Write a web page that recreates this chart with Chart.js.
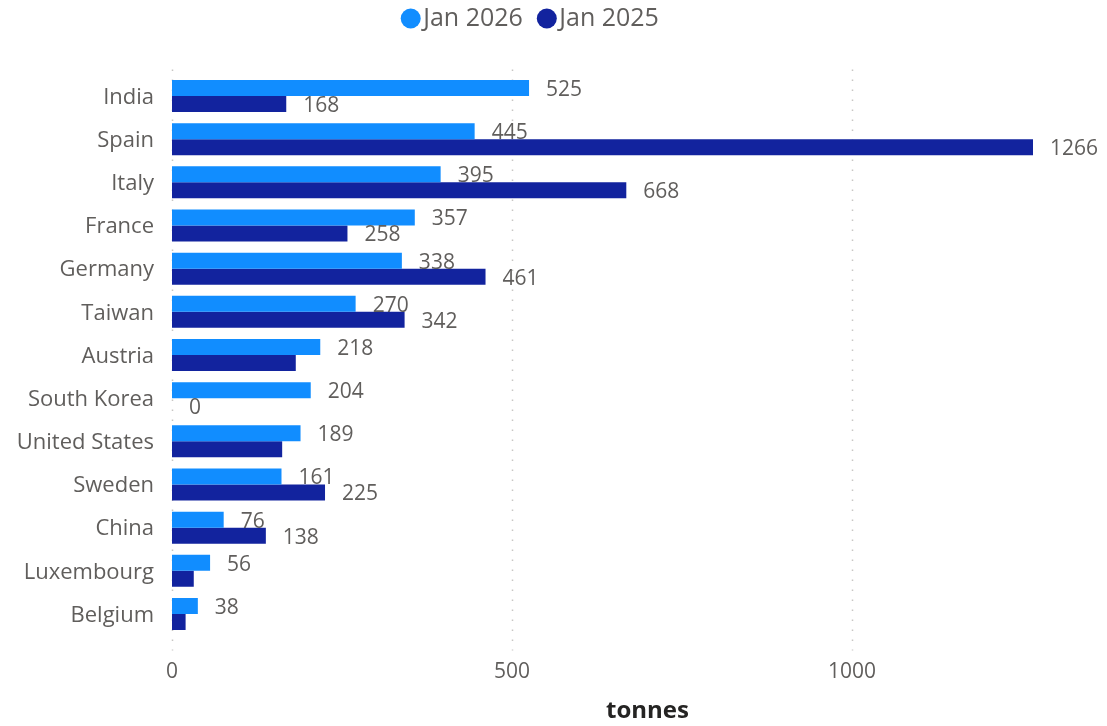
<!DOCTYPE html>
<html>
<head>
<meta charset="utf-8">
<script src="https://cdn.jsdelivr.net/npm/chart.js@4/dist/chart.umd.min.js"></script>
<style>
  html, body { margin: 0; padding: 0; background: #fff; }
  #wrap { width: 1107px; height: 726px; }
</style>
</head>
<body>
<div id="wrap"><canvas id="chart"></canvas></div>
<script>
const countries = ['India', 'Spain', 'Italy', 'France', 'Germany', 'Taiwan', 'Austria', 'South Korea', 'United States', 'Sweden', 'China', 'Luxembourg', 'Belgium'];
const jan2026 = [525, 445, 395, 357, 338, 270, 218, 204, 189, 161, 76, 56, 38];
const jan2025 = [168, 1266, 668, 258, 461, 342, 182, 0, 162, 225, 138, 32, 20];
const xTicks = [0, 500, 1000];
const seriesNames = ['Jan 2026', 'Jan 2025'];
const seriesColors = ['#118DFF', '#12239E'];

const textGray = '#605E5C';
const fontFamily = '"Open Sans", "Noto Sans", sans-serif';

// legend drawn by hand so the dot-to-text gap matches
const legendPlugin = {
  id: 'topLegend',
  afterDraw(chart) {
    const c = chart.ctx;
    c.save();
    c.font = '25px ' + fontFamily;
    c.textBaseline = 'middle';
    let x = 410.7;
    const y = 18.5;
    seriesNames.forEach((name, i) => {
      c.fillStyle = seriesColors[i];
      c.beginPath();
      c.arc(x, y, 10, 0, Math.PI * 2);
      c.fill();
      c.fillStyle = textGray;
      c.textAlign = 'left';
      c.fillText(name, x + 12.5, y);
      x = x + 12.5 + c.measureText(name).width + 24;
    });
    c.restore();
  }
};

// dotted gridlines that run a bit past the plot area, like the original
const dottedGrid = {
  id: 'dottedGrid',
  beforeDatasetsDraw(chart) {
    const c = chart.ctx;
    const xs = chart.scales.x;
    c.save();
    c.strokeStyle = '#C8C6C4';
    c.lineWidth = 1.5;
    c.setLineDash([1.5, 8.5]);
    xs.ticks.forEach(t => {
      const px = Math.round(xs.getPixelForValue(t.value)) + 0.5;
      c.beginPath();
      c.moveTo(px, chart.chartArea.top - 5);
      c.lineTo(px, chart.chartArea.bottom + 15);
      c.stroke();
    });
    c.restore();
  }
};

// value labels, skipped when they would collide with one already drawn
const valueLabels = {
  id: 'valueLabels',
  afterDatasetsDraw(chart) {
    const c = chart.ctx;
    const placed = [];
    c.save();
    c.font = '21px ' + fontFamily;
    c.fillStyle = textGray;
    c.textAlign = 'left';
    c.textBaseline = 'middle';
    chart.data.datasets.forEach((ds, di) => {
      chart.getDatasetMeta(di).data.forEach((bar, i) => {
        const txt = String(ds.data[i]);
        const w = c.measureText(txt).width;
        const box = { x1: bar.x + 17, x2: bar.x + 17 + w, y1: bar.y - 11, y2: bar.y + 11 };
        const hit = placed.some(b => box.x1 < b.x2 && box.x2 > b.x1 && box.y1 < b.y2 && box.y2 > b.y1);
        if (hit) return;
        placed.push(box);
        c.fillText(txt, box.x1, bar.y + 2);
      });
    });
    c.restore();
  }
};

// axis title, centred where the original has it
const axisTitle = {
  id: 'axisTitle',
  afterDraw(chart) {
    const c = chart.ctx;
    c.save();
    c.font = 'bold 24px ' + fontFamily;
    c.fillStyle = '#252423';
    c.textAlign = 'center';
    c.textBaseline = 'middle';
    c.fillText('tonnes', 647.5, 711);
    c.restore();
  }
};

const ctx = document.getElementById('chart').getContext('2d');

new Chart(ctx, {
  type: 'bar',
  data: {
    labels: countries,
    datasets: [
      { label: seriesNames[0], data: jan2026, backgroundColor: seriesColors[0] },
      { label: seriesNames[1], data: jan2025, backgroundColor: seriesColors[1] }
    ]
  },
  options: {
    indexAxis: 'y',
    responsive: true,
    maintainAspectRatio: false,
    animation: false,
    categoryPercentage: 0.741,
    barPercentage: 1,
    layout: { padding: { top: 74.4, right: 74, left: 0, bottom: 0 } },
    plugins: {
      legend: { display: false },
      tooltip: { enabled: false }
    },
    scales: {
      x: {
        min: 0,
        max: Math.max(...jan2025, ...jan2026),
        afterBuildTicks: axis => { axis.ticks = xTicks.map(v => ({ value: v })); },
        afterFit: scale => { scale.height = 90.4; },
        border: { display: false },
        grid: { display: false, drawTicks: false },
        ticks: {
          color: textGray,
          padding: 24,
          font: { family: fontFamily, size: 21 },
          maxRotation: 0,
          callback: v => String(v)
        }
      },
      y: {
        afterFit: scale => { scale.width = 172; },
        border: { display: false },
        grid: { display: false, drawTicks: false },
        ticks: {
          color: textGray,
          padding: 18,
          labelOffset: 1.5,
          font: { family: fontFamily, size: 22 }
        }
      }
    }
  },
  plugins: [dottedGrid, legendPlugin, valueLabels, axisTitle]
});
</script>
</body>
</html>
